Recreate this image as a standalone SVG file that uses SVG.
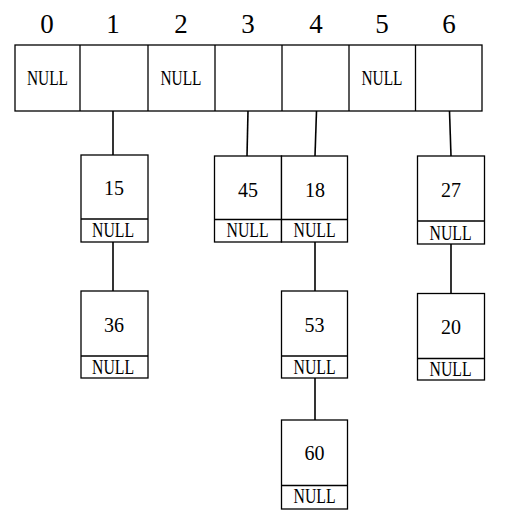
<svg xmlns="http://www.w3.org/2000/svg" width="509" height="528" viewBox="0 0 509 528">
<style>
.b{fill:#fff;stroke:#000;stroke-width:1.3}
.d{stroke:#000;stroke-width:1.3}
.c{stroke:#000;stroke-width:1.6;fill:none}
text{font-family:"Liberation Serif","DejaVu Serif",serif;fill:#000;text-anchor:middle}
.i{font-size:27px}
.n{font-size:20px}
.u{font-size:20.5px}
</style>
<rect width="509" height="528" fill="#fff"/>
<g id="table">
<rect class="b" x="15" y="45" width="467" height="66"/>
<line class="d" x1="80" y1="45" x2="80" y2="111"/>
<line class="d" x1="148" y1="45" x2="148" y2="111" stroke-width="2"/>
<line class="d" x1="215" y1="45" x2="215" y2="111" stroke-width="2"/>
<line class="d" x1="282" y1="45" x2="282" y2="111"/>
<line class="d" x1="349" y1="45" x2="349" y2="111"/>
<line class="d" x1="415.5" y1="45" x2="415.5" y2="111"/>
<text class="i" x="47" y="33">0</text>
<text class="i" x="113" y="33">1</text>
<text class="i" x="181" y="33">2</text>
<text class="i" x="248" y="33">3</text>
<text class="i" x="316" y="33">4</text>
<text class="i" x="382" y="33">5</text>
<text class="i" x="449" y="33">6</text>
<text class="u" x="47.5" y="85" textLength="41" lengthAdjust="spacingAndGlyphs">NULL</text>
<text class="u" x="181" y="85" textLength="41" lengthAdjust="spacingAndGlyphs">NULL</text>
<text class="u" x="382" y="85" textLength="41" lengthAdjust="spacingAndGlyphs">NULL</text>
</g>
<g id="connectors">
<line class="c" x1="113" y1="111" x2="113" y2="155"/>
<line class="c" x1="248" y1="111" x2="247" y2="156"/>
<line class="c" x1="316.5" y1="111" x2="315" y2="156"/>
<line class="c" x1="449.5" y1="111" x2="451" y2="156"/>
<line class="c" x1="113" y1="242" x2="113" y2="291"/>
<line class="c" x1="315" y1="242" x2="315" y2="291"/>
<line class="c" x1="315" y1="378" x2="315" y2="420"/>
<line class="c" x1="451" y1="244" x2="451" y2="293"/>
</g>
<g id="n15">
<rect class="b" x="81" y="155" width="67" height="87"/>
<line class="d" x1="81" y1="219" x2="148" y2="219"/>
<text class="n" x="114" y="195">15</text>
<text class="u" x="113" y="237" textLength="42" lengthAdjust="spacingAndGlyphs">NULL</text>
</g>
<g id="n36">
<rect class="b" x="81" y="291" width="67" height="87"/>
<line class="d" x1="81" y1="356" x2="148" y2="356"/>
<text class="n" x="114" y="332">36</text>
<text class="u" x="113" y="374" textLength="42" lengthAdjust="spacingAndGlyphs">NULL</text>
</g>
<g id="n45">
<rect class="b" x="214.5" y="156" width="67" height="86"/>
<line class="d" x1="214.5" y1="219.5" x2="281.5" y2="219.5"/>
<text class="n" x="248" y="197">45</text>
<text class="u" x="247.5" y="237" textLength="42" lengthAdjust="spacingAndGlyphs">NULL</text>
</g>
<g id="n18">
<rect class="b" x="281.5" y="156" width="66" height="86"/>
<line class="d" x1="281.5" y1="219.5" x2="347.5" y2="219.5"/>
<text class="n" x="315" y="197">18</text>
<text class="u" x="314.5" y="237" textLength="42" lengthAdjust="spacingAndGlyphs">NULL</text>
</g>
<g id="n53">
<rect class="b" x="281.5" y="291" width="66" height="87"/>
<line class="d" x1="281.5" y1="356" x2="347.5" y2="356"/>
<text class="n" x="314.5" y="332">53</text>
<text class="u" x="314.5" y="374" textLength="42" lengthAdjust="spacingAndGlyphs">NULL</text>
</g>
<g id="n60">
<rect class="b" x="281.5" y="420" width="66" height="89"/>
<line class="d" x1="281.5" y1="485.5" x2="347.5" y2="485.5"/>
<text class="n" x="314.5" y="460">60</text>
<text class="u" x="314.5" y="502.5" textLength="42" lengthAdjust="spacingAndGlyphs">NULL</text>
</g>
<g id="n27">
<rect class="b" x="417.5" y="156" width="67" height="88"/>
<line class="d" x1="417.5" y1="221" x2="484.5" y2="221"/>
<text class="n" x="451" y="197">27</text>
<text class="u" x="450.5" y="239.5" textLength="42" lengthAdjust="spacingAndGlyphs">NULL</text>
</g>
<g id="n20">
<rect class="b" x="417.5" y="293.5" width="67" height="86.5"/>
<line class="d" x1="417.5" y1="358.5" x2="484.5" y2="358.5"/>
<text class="n" x="451" y="333.5">20</text>
<text class="u" x="450.5" y="375.5" textLength="42" lengthAdjust="spacingAndGlyphs">NULL</text>
</g>
</svg>
